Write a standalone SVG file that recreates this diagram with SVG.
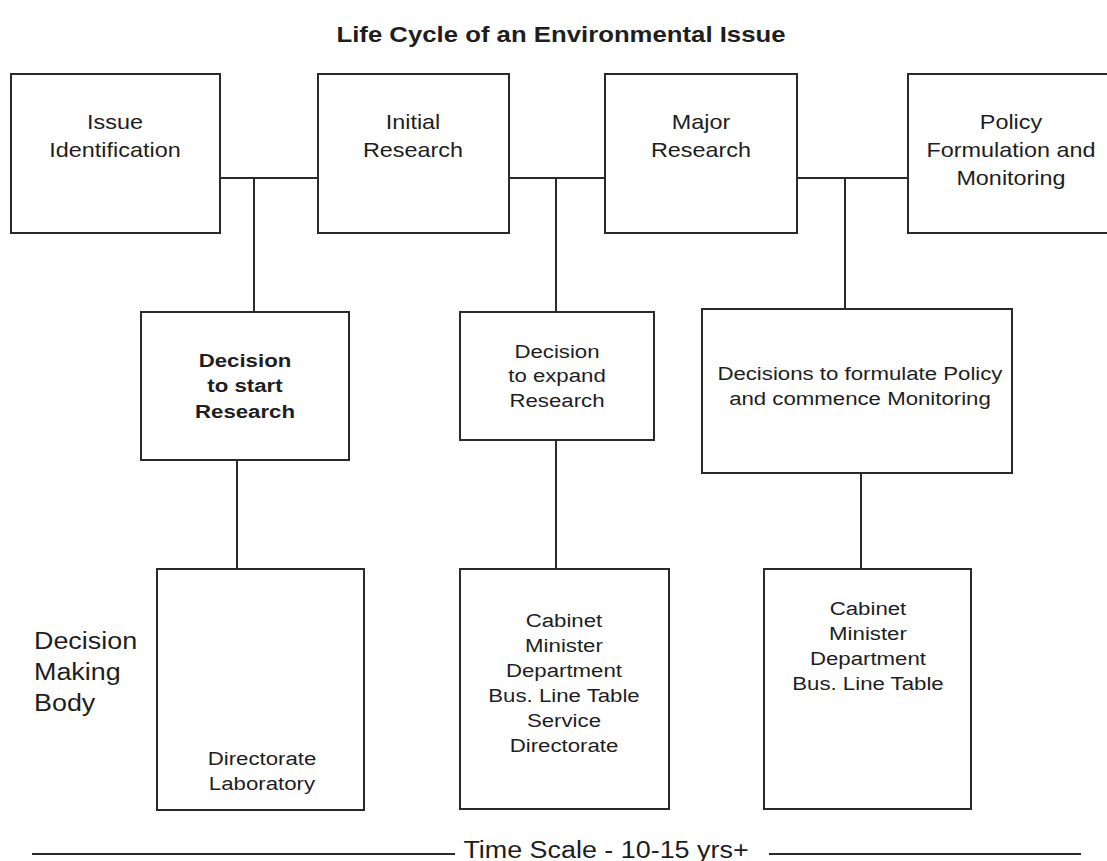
<svg xmlns="http://www.w3.org/2000/svg" width="1107" height="861" viewBox="0 0 1107 861">
<style>
  .bg { fill: #ffffff; }
  .box { fill: #ffffff; stroke: #2a2a2a; stroke-width: 2; }
  .ln { stroke: #2a2a2a; stroke-width: 2; fill: none; }
  text { font-family: "Liberation Sans", Arial, sans-serif; fill: #1e1e1e; text-anchor: middle; transform: scaleX(1.17); transform-box: fill-box; transform-origin: center; }
  .title { font-size: 22px; font-weight: bold; }
  .top { font-size: 20px; }
  .mid { font-size: 19px; }
  .midb { font-size: 19px; font-weight: bold; }
  .bot { font-size: 19px; }
  .side { font-size: 23px; text-anchor: start; transform-origin: left center; }
  .scale { font-size: 23px; }
</style>
<rect class="bg" x="0" y="0" width="1107" height="861"/>
<text class="title" x="561" y="42">Life Cycle of an Environmental Issue</text>

<g id="connectors">
  <path class="ln" d="M220 178 H318 M254 178 V312"/>
  <path class="ln" d="M509 178 H605 M556 178 V312"/>
  <path class="ln" d="M797 178 H908 M845 178 V309"/>
  <path class="ln" d="M237 460 V569"/>
  <path class="ln" d="M556 440 V569"/>
  <path class="ln" d="M861 473 V569"/>
</g>

<g id="issue-identification">
  <rect class="box" x="11" y="74" width="209" height="159"/>
  <text class="top" x="115" y="129">Issue</text>
  <text class="top" x="115" y="157">Identification</text>
</g>
<g id="initial-research">
  <rect class="box" x="318" y="74" width="191" height="159"/>
  <text class="top" x="413" y="129">Initial</text>
  <text class="top" x="413" y="157">Research</text>
</g>
<g id="major-research">
  <rect class="box" x="605" y="74" width="192" height="159"/>
  <text class="top" x="701" y="129">Major</text>
  <text class="top" x="701" y="157">Research</text>
</g>
<g id="policy-formulation">
  <rect class="box" x="908" y="74" width="210" height="159"/>
  <text class="top" x="1011" y="129">Policy</text>
  <text class="top" x="1011" y="157">Formulation and</text>
  <text class="top" x="1011" y="185">Monitoring</text>
</g>

<g id="decision-start">
  <rect class="box" x="141" y="312" width="208" height="148"/>
  <text class="midb" x="245" y="367">Decision</text>
  <text class="midb" x="245" y="392">to start</text>
  <text class="midb" x="245" y="418">Research</text>
</g>
<g id="decision-expand">
  <rect class="box" x="460" y="312" width="194" height="128"/>
  <text class="mid" x="557" y="358">Decision</text>
  <text class="mid" x="557" y="382">to expand</text>
  <text class="mid" x="557" y="407">Research</text>
</g>
<g id="decisions-policy">
  <rect class="box" x="702" y="309" width="310" height="164"/>
  <text class="mid" x="860" y="380">Decisions to formulate Policy</text>
  <text class="mid" x="860" y="405">and commence Monitoring</text>
</g>

<g id="body-directorate">
  <rect class="box" x="157" y="569" width="207" height="241"/>
  <text class="bot" x="262" y="765">Directorate</text>
  <text class="bot" x="262" y="790">Laboratory</text>
</g>
<g id="body-cabinet-1">
  <rect class="box" x="460" y="569" width="209" height="240"/>
  <text class="bot" x="564" y="627">Cabinet</text>
  <text class="bot" x="564" y="652">Minister</text>
  <text class="bot" x="564" y="677">Department</text>
  <text class="bot" x="564" y="702">Bus. Line Table</text>
  <text class="bot" x="564" y="727">Service</text>
  <text class="bot" x="564" y="752">Directorate</text>
</g>
<g id="body-cabinet-2">
  <rect class="box" x="764" y="569" width="207" height="240"/>
  <text class="bot" x="868" y="615">Cabinet</text>
  <text class="bot" x="868" y="640">Minister</text>
  <text class="bot" x="868" y="665">Department</text>
  <text class="bot" x="868" y="690">Bus. Line Table</text>
</g>

<g id="decision-making-body-label">
  <text class="side" x="34" y="649">Decision</text>
  <text class="side" x="34" y="680">Making</text>
  <text class="side" x="34" y="711">Body</text>
</g>

<g id="time-scale">
  <path class="ln" d="M32 854 H455 M769 854 H1081"/>
  <text class="scale" x="606" y="858">Time Scale - 10-15 yrs+</text>
</g>
</svg>
